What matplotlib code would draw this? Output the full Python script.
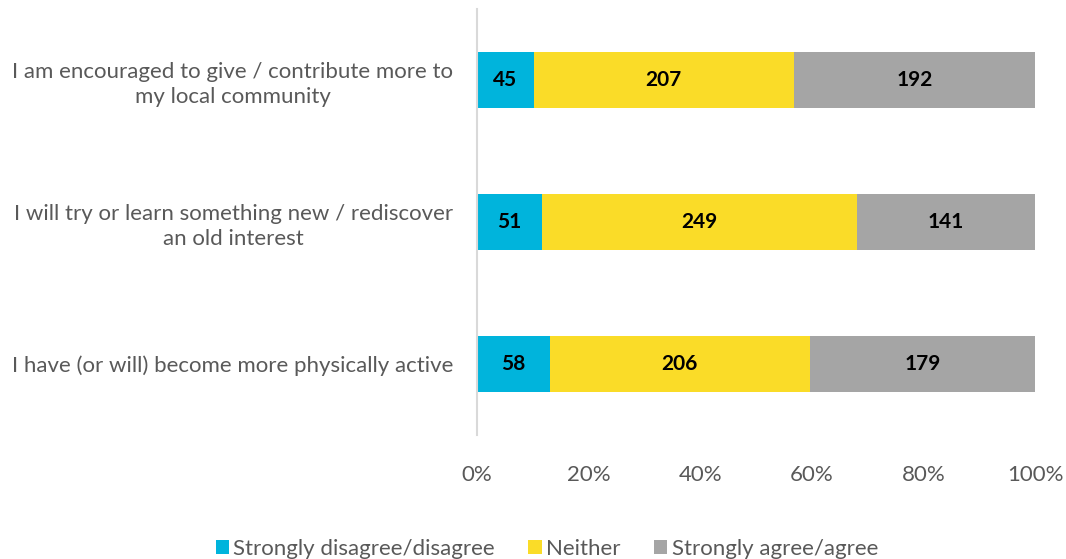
import numpy as np
import matplotlib.pyplot as plt
from matplotlib.ticker import PercentFormatter

plt.rcParams['font.family'] = ['Lato', 'DejaVu Sans']

questions = ['I am encouraged to give / contribute more to\nmy local community',
             'I will try or learn something new / rediscover\nan old interest',
             'I have (or will) become more physically active']
disagree = np.array([45, 51, 58])
neither = np.array([207, 249, 206])
agree = np.array([192, 141, 179])

series_names = ['Strongly disagree/disagree', 'Neither', 'Strongly agree/agree']
colours = ['#00B4DC', '#FADC28', '#A5A5A5']
grey_text = '#595959'

totals = disagree + neither + agree
ypos = np.arange(len(questions))

fig = plt.figure(figsize=(10.66, 5.59), dpi=100)
ax = fig.add_axes([0.4475, 0.222, 0.5235, 0.762])

left = np.zeros(len(questions))
for counts, name, col in zip([disagree, neither, agree], series_names, colours):
    share = counts / totals
    bars = ax.barh(ypos, share, left=left, height=0.39, color=col, label=name)
    for b, n in zip(bars, counts):
        ax.text(b.get_x() + b.get_width() / 2, b.get_y() + b.get_height() / 2, str(n),
                ha='center', va='center', fontsize=15, fontweight='bold', color='black')
    left += share

ax.set_xlim(0, 1)
ax.set_ylim(len(questions) - 0.5, -0.5)
ax.set_xticks(np.arange(0, 1.01, 0.2))
ax.xaxis.set_major_formatter(PercentFormatter(1.0, decimals=0))
ax.set_yticks(ypos)
ax.set_yticklabels(questions, multialignment='center', linespacing=1.3)

for s in ['top', 'right', 'bottom']:
    ax.spines[s].set_visible(False)
ax.spines['left'].set_color('#D9D9D9')
ax.spines['left'].set_linewidth(1.5)
ax.tick_params(axis='both', length=0, labelsize=16, colors=grey_text)
ax.tick_params(axis='x', pad=22)
ax.tick_params(axis='y', pad=17)

fig.legend(loc='lower center', bbox_to_anchor=(0.513, -0.036), ncol=3, frameon=False,
           fontsize=16, labelcolor=grey_text, handlelength=0.6, handleheight=0.6,
           handletextpad=0.2, columnspacing=1.5)

fig.savefig('out.png', dpi=100)
